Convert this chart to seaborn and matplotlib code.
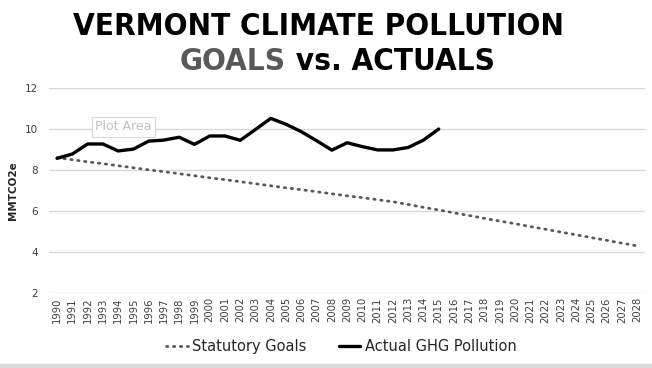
import matplotlib
matplotlib.use("Agg")
from matplotlib import pyplot as plt
from matplotlib.patches import Rectangle
import seaborn as sns
import pandas as pd

years = list(range(1990, 2029))

goals = [8.60, 8.50, 8.40, 8.31, 8.21, 8.11, 8.01, 7.92, 7.82, 7.72,
         7.62, 7.53, 7.43, 7.33, 7.23, 7.13, 7.04, 6.94, 6.84, 6.74,
         6.65, 6.55, 6.45, 6.32, 6.18, 6.05, 5.91, 5.78, 5.64, 5.51,
         5.38, 5.24, 5.11, 4.97, 4.84, 4.70, 4.57, 4.43, 4.30]

actual_years = list(range(1990, 2016))
actual = [8.57, 8.78, 9.27, 9.27, 8.93, 9.02, 9.41, 9.46, 9.60, 9.25,
          9.66, 9.66, 9.45, 9.98, 10.52, 10.23, 9.87, 9.43, 8.97, 9.33,
          9.14, 8.98, 8.98, 9.10, 9.46, 10.00]

y_ticks = [2, 4, 6, 8, 10, 12]

goals_df = pd.DataFrame({"year": years, "value": goals})
actual_df = pd.DataFrame({"year": actual_years, "value": actual})

sns.set_style("white")
plt.rcParams["font.family"] = ["DejaVu Sans"]

fig = plt.figure(figsize=(6.52, 3.68), dpi=100)
ax = fig.add_axes([0.0758, 0.2038, 0.9132, 0.557])

sns.lineplot(data=goals_df, x="year", y="value", ax=ax, color="#595959",
             linewidth=2.0, linestyle=(0, (0.5, 2.0)), dash_capstyle="round",
             label="Statutory Goals")
sns.lineplot(data=actual_df, x="year", y="value", ax=ax, color="black",
             linewidth=2.4, label="Actual GHG Pollution")

ax.set_xlim(1989.5, 2028.5)
ax.set_ylim(2, 12)
ax.set_yticks(y_ticks)
ax.set_xticks(years)
ax.set_xticklabels([str(y) for y in years], rotation=90, fontsize=7.2, color="#404040")
ax.tick_params(axis="y", labelsize=7.5, colors="#404040", length=0, pad=8)
ax.tick_params(axis="x", length=0, pad=3)
ax.grid(axis="y", color="#d9d9d9", linewidth=1)
ax.set_axisbelow(True)
for s in ax.spines.values():
    s.set_visible(False)
ax.set_xlabel("")
ax.set_ylabel("MMTCO2e", fontsize=7.5, fontweight="bold", color="#262626", labelpad=5)

ax.legend(loc="center", bbox_to_anchor=(0.49, -0.26), ncol=2, frameon=False,
          fontsize=10.5, handlelength=1.5, handletextpad=0.3, columnspacing=2.2,
          labelcolor="#262626")

# "Plot Area" hover tip from the original screenshot
ax.text(1992.5, 10.1, "Plot Area", fontsize=9, color="#bfbfbf", ha="left", va="center",
        bbox=dict(boxstyle="square,pad=0.25", fc="white", ec="#d9d9d9", lw=0.8))

title_kw = dict(fontsize=22.5, fontweight="heavy", fontstretch="condensed", va="center")
fig.text(0.488, 0.927, "VERMONT CLIMATE POLLUTION", ha="center", color="black", **title_kw)

fig.canvas.draw()
r = fig.canvas.get_renderer()
t1 = fig.text(0, 0.832, "GOALS", ha="left", color="#595959", **title_kw)
t2 = fig.text(0, 0.832, " vs. ACTUALS", ha="left", color="black", **title_kw)
w1 = t1.get_window_extent(r).width / fig.bbox.width
w2 = t2.get_window_extent(r).width / fig.bbox.width
x0 = 0.517 - (w1 + w2) / 2
t1.set_x(x0)
t2.set_x(x0 + w1)

fig.patches.append(Rectangle((0, 0), 1, 0.012, transform=fig.transFigure,
                             color="#d9d9d9", zorder=0))

fig.savefig("out.png", dpi=100)
